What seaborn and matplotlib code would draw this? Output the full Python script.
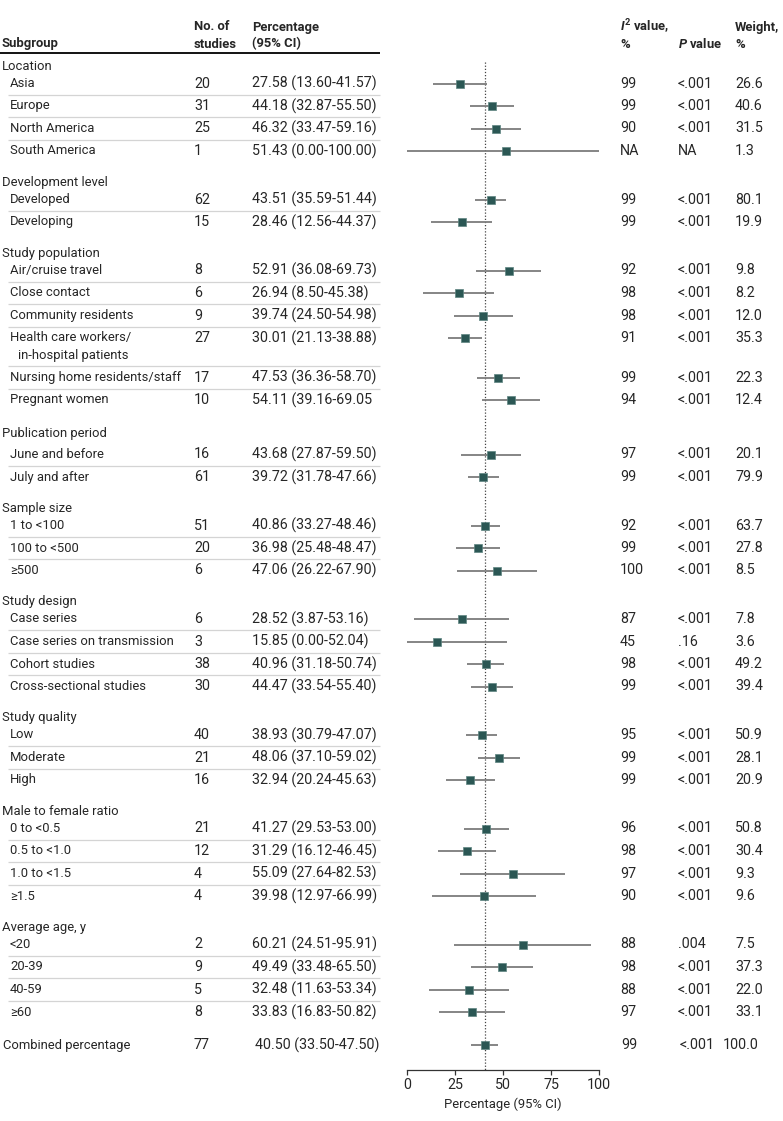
import numpy as np
import pandas as pd
import matplotlib as mpl
mpl.use('Agg')
import matplotlib.pyplot as plt
import seaborn as sns

group_names = ['Location', 'Development level', 'Study population', 'Publication period',
               'Sample size', 'Study design', 'Study quality', 'Male to female ratio',
               'Average age, y']
group_sizes = [4, 2, 6, 2, 3, 4, 3, 4, 4]

subgroups = ['Asia', 'Europe', 'North America', 'South America',
             'Developed', 'Developing',
             'Air/cruise travel', 'Close contact', 'Community residents',
             'Health care workers/\nin-hospital patients', 'Nursing home residents/staff',
             'Pregnant women',
             'June and before', 'July and after',
             '1 to <100', '100 to <500', '≥500',
             'Case series', 'Case series on transmission', 'Cohort studies',
             'Cross-sectional studies',
             'Low', 'Moderate', 'High',
             '0 to <0.5', '0.5 to <1.0', '1.0 to <1.5', '≥1.5',
             '<20', '20-39', '40-59', '≥60']
n_studies = [20, 31, 25, 1, 62, 15, 8, 6, 9, 27, 17, 10, 16, 61, 51, 20, 6,
             6, 3, 38, 30, 40, 21, 16, 21, 12, 4, 4, 2, 9, 5, 8]
estimates = [27.58, 44.18, 46.32, 51.43, 43.51, 28.46, 52.91, 26.94, 39.74, 30.01,
             47.53, 54.11, 43.68, 39.72, 40.86, 36.98, 47.06, 28.52, 15.85, 40.96,
             44.47, 38.93, 48.06, 32.94, 41.27, 31.29, 55.09, 39.98, 60.21, 49.49,
             32.48, 33.83]
ci_low = [13.60, 32.87, 33.47, 0.00, 35.59, 12.56, 36.08, 8.50, 24.50, 21.13,
          36.36, 39.16, 27.87, 31.78, 33.27, 25.48, 26.22, 3.87, 0.00, 31.18,
          33.54, 30.79, 37.10, 20.24, 29.53, 16.12, 27.64, 12.97, 24.51, 33.48,
          11.63, 16.83]
ci_high = [41.57, 55.50, 59.16, 100.00, 51.44, 44.37, 69.73, 45.38, 54.98, 38.88,
           58.70, 69.05, 59.50, 47.66, 48.46, 48.47, 67.90, 53.16, 52.04, 50.74,
           55.40, 47.07, 59.02, 45.63, 53.00, 46.45, 82.53, 66.99, 95.91, 65.50,
           53.34, 50.82]
i2_values = ['99', '99', '90', 'NA', '99', '99', '92', '98', '98', '91', '99', '94',
             '97', '99', '92', '99', '100', '87', '45', '98', '99', '95', '99', '99',
             '96', '98', '97', '90', '88', '98', '88', '97']
p_values = ['<.001', '<.001', '<.001', 'NA', '<.001', '<.001', '<.001', '<.001',
            '<.001', '<.001', '<.001', '<.001', '<.001', '<.001', '<.001', '<.001',
            '<.001', '<.001', '.16', '<.001', '<.001', '<.001', '<.001', '<.001',
            '<.001', '<.001', '<.001', '<.001', '.004', '<.001', '<.001', '<.001']
weights = ['26.6', '40.6', '31.5', '1.3', '80.1', '19.9', '9.8', '8.2', '12.0', '35.3',
           '22.3', '12.4', '20.1', '79.9', '63.7', '27.8', '8.5', '7.8', '3.6', '49.2',
           '39.4', '50.9', '28.1', '20.9', '50.8', '30.4', '9.3', '9.6', '7.5', '37.3',
           '22.0', '33.1']

combined_label = 'Combined percentage'
combined_n = 77
combined_est, combined_low, combined_high = 40.50, 33.50, 47.50
combined_i2, combined_p, combined_weight = '99', '<.001', '100.0'

# ---- layout (pixel rows, figure is 783 x 1121) ----
W, H = 783, 1121
ITEM, WRAP, HEAD, GAP = 22.5, 17, 17, 48.5
MARK = '#2b5754'
CI_COL = '#7c7c7c'

ypos, header_y = [], []
y, k = 83.5, 0
for g, size in zip(group_names, group_sizes):
    header_y.append(y - HEAD)
    wrapped = False
    for _ in range(size):
        ypos.append(y)
        wrapped = wrapped or ('\n' in subgroups[k])
        y += ITEM + (WRAP if '\n' in subgroups[k] else 0)
        k += 1
    y += GAP - ITEM + (6 if wrapped else 0)
combined_y = ypos[-1] + 33
header_y[3] -= 4  # "Publication period" sits a little higher in the source

df = pd.DataFrame({'subgroup': subgroups, 'n': n_studies, 'est': estimates,
                   'lo': ci_low, 'hi': ci_high, 'y': ypos})

sns.set_style('white')
plt.rcParams['font.family'] = ['Roboto', 'DejaVu Sans']
plt.rcParams['mathtext.fontset'] = 'custom'
plt.rcParams['mathtext.it'] = 'Roboto:italic:bold'
plt.rcParams['mathtext.rm'] = 'Roboto:bold'
FS = 9.4       # words
FS_NUM = 10.3  # numbers (source font has wide figures)

fig = plt.figure(figsize=(W / 100, H / 100), dpi=100)
tab = fig.add_axes([0, 0, 1, 1])
tab.set_xlim(0, W)
tab.set_ylim(H, 0)
tab.axis('off')

X0, X1 = 407, 599
ax = fig.add_axes([X0 / W, 0, (X1 - X0) / W, 1])
ax.patch.set_alpha(0)
ax.set_ylim(H, 0)

# header
hdr = dict(fontsize=FS, fontweight='bold', va='center', ha='left')
tab.text(2, 44, 'Subgroup', **hdr)
tab.text(194, 27, 'No. of', **hdr)
tab.text(194, 44, 'studies', **hdr)
tab.text(252, 27, 'Percentage', **hdr)
tab.text(252, 44, '(95% CI)', **hdr)
tab.text(620, 27, r'$\mathit{I}^{2}$ value,', **hdr)
tab.text(620, 44, '%', **hdr)
tab.text(678, 44, r'$\mathit{P}$ value', **hdr)
tab.text(735, 27, 'Weight,', **hdr)
tab.text(735, 44, '%', **hdr)
tab.hlines(53, 0, 380, color='black', lw=1.3)

cell = dict(fontsize=FS, va='center', ha='left')
num = dict(fontsize=FS_NUM, va='center', ha='left')
for g, hy in zip(group_names, header_y):
    tab.text(2, hy, g, **cell)

k = 0
for size in group_sizes:
    for j in range(size):
        r = df.iloc[k]
        lines = r['subgroup'].split('\n')
        tab.text(10, r['y'], lines[0], **cell)
        for m, extra in enumerate(lines[1:], start=1):
            tab.text(18, r['y'] + WRAP * m, extra, **cell)
        tab.text(194, r['y'], str(r['n']), **num)
        txt = '{:.2f} ({:.2f}-{:.2f})'.format(r['est'], r['lo'], r['hi'])
        if r['subgroup'] == 'Pregnant women':
            txt = txt[:-1]  # bracket is missing in the source table
        tab.text(252, r['y'], txt, **num)
        tab.text(620, r['y'], i2_values[k], **num)
        tab.text(678, r['y'], p_values[k], **num)
        tab.text(735, r['y'], weights[k], **num)
        if j < size - 1:
            tab.hlines(ypos[k + 1] - ITEM / 2, 8, 380, color='#d4d4d4', lw=0.9)
        k += 1

tab.text(3, combined_y, combined_label, **cell)
tab.text(194, combined_y, str(combined_n), **num)
tab.text(255, combined_y, '{:.2f} ({:.2f}-{:.2f})'.format(combined_est, combined_low, combined_high), **num)
tab.text(621, combined_y, combined_i2, **num)
tab.text(680, combined_y, combined_p, **num)
tab.text(723, combined_y, combined_weight, **num)

# forest
AXIS_Y = 1070
ax.vlines(combined_est, 62, AXIS_Y, color='#444444', lw=0.9, linestyles=(0, (1, 1.5)))
ax.hlines(df['y'], df['lo'], df['hi'], color=CI_COL, lw=1.3)
ax.hlines(combined_y, combined_low, combined_high, color=CI_COL, lw=1.3)
sns.scatterplot(data=df, x='est', y='y', marker='s', s=40, color=MARK,
                edgecolor='#5f8582', linewidth=0.5, ax=ax, legend=False, zorder=3)
sns.scatterplot(x=[combined_est], y=[combined_y], marker='s', s=40, color=MARK,
                edgecolor='#5f8582', linewidth=0.5, ax=ax, legend=False, zorder=3)

ax.set_xlim(0, 100)
ax.set_ylim(H, 0)
ax.set_xticks([0, 25, 50, 75, 100])
ax.set_yticks([])
ax.set_ylabel('')
ax.set_xlabel('Percentage (95% CI)', fontsize=FS, labelpad=4)
for s in ['left', 'right', 'top']:
    ax.spines[s].set_visible(False)
ax.spines['bottom'].set_position(('data', AXIS_Y))
ax.spines['bottom'].set_color('#333333')
ax.spines['bottom'].set_linewidth(0.9)
ax.tick_params(axis='x', direction='out', length=3.5, width=0.9, color='#333333',
               labelsize=FS_NUM, pad=2.5, bottom=True)

fig.savefig('out.png', dpi=100)
